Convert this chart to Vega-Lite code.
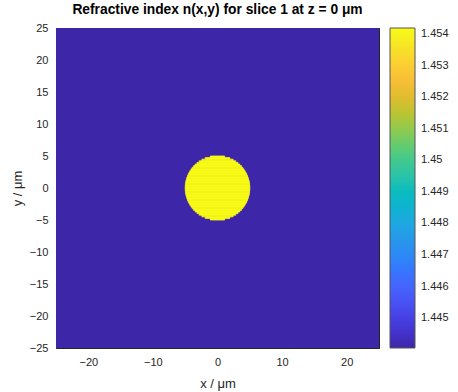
{
  "$schema": "https://vega.github.io/schema/vega-lite/v6.json",
  "autosize": {"type": "none"},
  "padding": {"left": 56, "top": 28, "right": 79, "bottom": 44},
  "width": 323,
  "height": 320,
  "background": "white",
  "config": {
    "view": {"stroke": null},
    "font": "Liberation Sans",
    "axis": {
      "grid": false,
      "domainColor": "#262626",
      "tickColor": "#262626",
      "labelColor": "#262626",
      "titleColor": "#262626",
      "labelFont": "Liberation Sans",
      "titleFont": "Liberation Sans",
      "labelFontSize": 11,
      "titleFontSize": 13,
      "titleFontWeight": "normal",
      "tickSize": -4,
      "zindex": 1
    }
  },
  "title": {
    "text": "Refractive index n(x,y) for slice 1 at z = 0 μm",
    "font": "Liberation Sans",
    "fontSize": 13.8,
    "fontWeight": "bold",
    "color": "#000000",
    "anchor": "middle",
    "frame": "group",
    "offset": 5
  },
  "layer": [
    {
      "data": {"values": [{"x": -25, "x2": 25, "y": -25, "y2": 25, "n": 1.44405}]},
      "mark": {"type": "rect"},
      "encoding": {
        "x": {"field": "x", "type": "quantitative", "scale": {"domain": [-25, 25], "nice": false, "zero": false},
              "axis": {"orient": "bottom", "values": [-20, -10, 0, 10, 20], "title": "x / μm", "labelPadding": 12, "titlePadding": 10}},
        "x2": {"field": "x2"},
        "y": {"field": "y", "type": "quantitative", "scale": {"domain": [-25, 25], "nice": false, "zero": false},
              "axis": {"orient": "left", "values": [-25, -20, -15, -10, -5, 0, 5, 10, 15, 20, 25], "title": "y / μm", "labelPadding": 12, "titlePadding": 5}},
        "y2": {"field": "y2"},
        "color": {"field": "n", "type": "quantitative",
          "scale": {"domain": [1.44405, 1.4542], "interpolate": "rgb",
            "range": ["#3e26a8", "#4332cb", "#4741e5", "#4852f4", "#4563fd", "#3875fe", "#2e87f7", "#2796eb", "#20a5e3", "#12b1d6", "#02bac3", "#24c1ae", "#37c897", "#57cc7a", "#81cc59", "#abc739", "#d1bf27", "#f0ba36", "#fec338", "#fad62d", "#f5e924", "#f9fb15"]},
          "legend": {"title": null, "orient": "right", "direction": "vertical", "gradientLength": 320, "gradientThickness": 25, "offset": 10, "padding": 0,
            "values": [1.445, 1.446, 1.447, 1.448, 1.449, 1.45, 1.451, 1.452, 1.453, 1.454], "format": ".4~r",
            "labelFont": "Liberation Sans", "labelFontSize": 11, "labelColor": "#262626", "labelOffset": 6, "labelOverlap": false,
            "gradientStrokeColor": "#555555", "gradientStrokeWidth": 1}}
      }
    },
    {
      "data": {"values": [
        {"y": -5.0, "y2": -4.75, "x": -1.111, "x2": 1.111, "n": 1.4542},
        {"y": -4.75, "y2": -4.5, "x": -1.8998, "x2": 1.8998, "n": 1.4542},
        {"y": -4.5, "y2": -4.25, "x": -2.4206, "x2": 2.4206, "n": 1.4542},
        {"y": -4.25, "y2": -4.0, "x": -2.8256, "x2": 2.8256, "n": 1.4542},
        {"y": -4.0, "y2": -3.75, "x": -3.1598, "x2": 3.1598, "n": 1.4542},
        {"y": -3.75, "y2": -3.5, "x": -3.4437, "x2": 3.4437, "n": 1.4542},
        {"y": -3.5, "y2": -3.25, "x": -3.6891, "x2": 3.6891, "n": 1.4542},
        {"y": -3.25, "y2": -3.0, "x": -3.9031, "x2": 3.9031, "n": 1.4542},
        {"y": -3.0, "y2": -2.75, "x": -4.0908, "x2": 4.0908, "n": 1.4542},
        {"y": -2.75, "y2": -2.5, "x": -4.2555, "x2": 4.2555, "n": 1.4542},
        {"y": -2.5, "y2": -2.25, "x": -4.3999, "x2": 4.3999, "n": 1.4542},
        {"y": -2.25, "y2": -2.0, "x": -4.526, "x2": 4.526, "n": 1.4542},
        {"y": -2.0, "y2": -1.75, "x": -4.6351, "x2": 4.6351, "n": 1.4542},
        {"y": -1.75, "y2": -1.5, "x": -4.7286, "x2": 4.7286, "n": 1.4542},
        {"y": -1.5, "y2": -1.25, "x": -4.8072, "x2": 4.8072, "n": 1.4542},
        {"y": -1.25, "y2": -1.0, "x": -4.8718, "x2": 4.8718, "n": 1.4542},
        {"y": -1.0, "y2": -0.75, "x": -4.9229, "x2": 4.9229, "n": 1.4542},
        {"y": -0.75, "y2": -0.5, "x": -4.9608, "x2": 4.9608, "n": 1.4542},
        {"y": -0.5, "y2": -0.25, "x": -4.9859, "x2": 4.9859, "n": 1.4542},
        {"y": -0.25, "y2": 0.0, "x": -4.9984, "x2": 4.9984, "n": 1.4542},
        {"y": 0.0, "y2": 0.25, "x": -4.9984, "x2": 4.9984, "n": 1.4542},
        {"y": 0.25, "y2": 0.5, "x": -4.9859, "x2": 4.9859, "n": 1.4542},
        {"y": 0.5, "y2": 0.75, "x": -4.9608, "x2": 4.9608, "n": 1.4542},
        {"y": 0.75, "y2": 1.0, "x": -4.9229, "x2": 4.9229, "n": 1.4542},
        {"y": 1.0, "y2": 1.25, "x": -4.8718, "x2": 4.8718, "n": 1.4542},
        {"y": 1.25, "y2": 1.5, "x": -4.8072, "x2": 4.8072, "n": 1.4542},
        {"y": 1.5, "y2": 1.75, "x": -4.7286, "x2": 4.7286, "n": 1.4542},
        {"y": 1.75, "y2": 2.0, "x": -4.6351, "x2": 4.6351, "n": 1.4542},
        {"y": 2.0, "y2": 2.25, "x": -4.526, "x2": 4.526, "n": 1.4542},
        {"y": 2.25, "y2": 2.5, "x": -4.3999, "x2": 4.3999, "n": 1.4542},
        {"y": 2.5, "y2": 2.75, "x": -4.2555, "x2": 4.2555, "n": 1.4542},
        {"y": 2.75, "y2": 3.0, "x": -4.0908, "x2": 4.0908, "n": 1.4542},
        {"y": 3.0, "y2": 3.25, "x": -3.9031, "x2": 3.9031, "n": 1.4542},
        {"y": 3.25, "y2": 3.5, "x": -3.6891, "x2": 3.6891, "n": 1.4542},
        {"y": 3.5, "y2": 3.75, "x": -3.4437, "x2": 3.4437, "n": 1.4542},
        {"y": 3.75, "y2": 4.0, "x": -3.1598, "x2": 3.1598, "n": 1.4542},
        {"y": 4.0, "y2": 4.25, "x": -2.8256, "x2": 2.8256, "n": 1.4542},
        {"y": 4.25, "y2": 4.5, "x": -2.4206, "x2": 2.4206, "n": 1.4542},
        {"y": 4.5, "y2": 4.75, "x": -1.8998, "x2": 1.8998, "n": 1.4542},
        {"y": 4.75, "y2": 5.0, "x": -1.111, "x2": 1.111, "n": 1.4542}
      ]},
      "mark": {"type": "rect", "stroke": "#f9fb15", "strokeWidth": 0.8},
      "encoding": {
        "x": {"field": "x", "type": "quantitative",
              "axis": {"orient": "top", "values": [-20, -10, 0, 10, 20], "labels": false, "title": null}},
        "x2": {"field": "x2"},
        "y": {"field": "y", "type": "quantitative",
              "axis": {"orient": "right", "values": [-25, -20, -15, -10, -5, 0, 5, 10, 15, 20, 25], "labels": false, "title": null}},
        "y2": {"field": "y2"},
        "color": {"field": "n", "type": "quantitative"}
      }
    }
  ],
  "resolve": {"axis": {"x": "independent", "y": "independent"}}
}
